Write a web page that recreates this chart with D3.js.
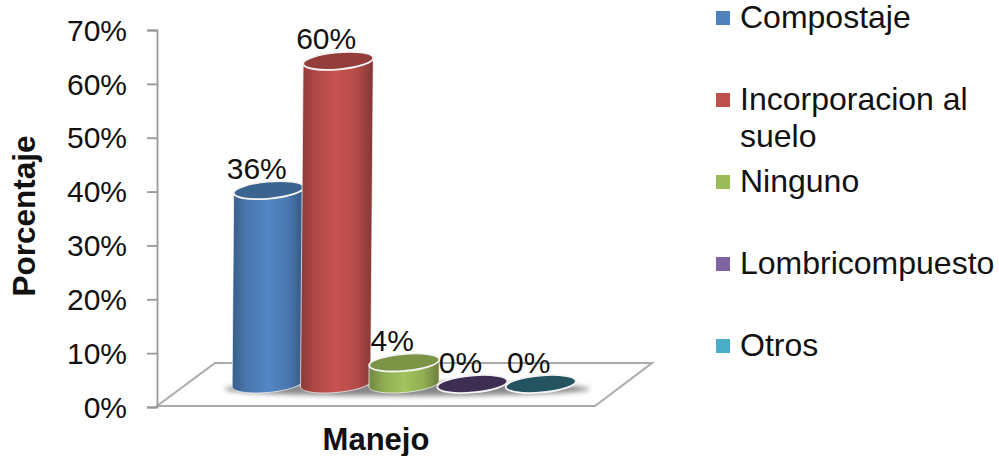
<!DOCTYPE html>
<html>
<head>
<meta charset="utf-8">
<script src="https://cdn.jsdelivr.net/npm/d3@7"></script>
<style>
  html, body { margin: 0; padding: 0; background: #fff; }
  svg { display: block; }
  text { font-family: "Liberation Sans", Arial, sans-serif; fill: #111; }
</style>
</head>
<body>
<svg id="chart" width="999" height="456"></svg>
<script>
const categories = ["Compostaje", "Incorporacion al suelo", "Ninguno", "Lombricompuesto", "Otros"];
const values = [36, 60, 4, 0, 0];
const valueLabels = ["36%", "60%", "4%", "0%", "0%"];
const axisTicks = [0, 10, 20, 30, 40, 50, 60, 70];
const legendLines = [["Compostaje"], ["Incorporacion al", "suelo"], ["Ninguno"], ["Lombricompuesto"], ["Otros"]];
const sideColors = ["#4f81bd", "#c0504d", "#9bbb59", "#8064a2", "#4bacc6"];
const capColors = ["#3c6491", "#933e3b", "#7b9445", "#3f2e54", "#235460"];
const legendRowY = [18, 100, 182, 264, 346];

const svg = d3.select("#chart");
const defs = svg.append("defs");

// Side gradients: dark rims with a lit centre band
categories.forEach((c, i) => {
  const base = d3.color(sideColors[i]);
  const g = defs.append("linearGradient").attr("id", "side" + i);
  [[0, base.darker(0.9)], [0.2, base.darker(0.25)], [0.5, base.brighter(0.12)], [0.78, base.darker(0.2)], [1, base.darker(1.1)]]
    .forEach(([o, col]) => g.append("stop").attr("offset", o).attr("stop-color", col));
});
defs.append("filter").attr("id", "soft")
  .attr("x", "-20%").attr("y", "-100%").attr("width", "140%").attr("height", "300%")
  .append("feGaussianBlur").attr("stdDeviation", 2.5);

// Value scale as seen on the wall, and the same scale shifted back to the bar row
const y = d3.scaleLinear().domain([0, 70]).range([407, 30]);
const floorOffset = 23;
const barY = v => y(v) - floorOffset;
const x = d3.scaleBand().domain(categories).range([233, 575]);

// Floor plane
const floorEdge = d3.line();
svg.append("path")
  .attr("d", floorEdge([[157, 406], [215, 363], [652, 363], [595, 406]]) + "Z")
  .attr("fill", "#fff").attr("stroke", "#aaa").attr("stroke-width", 2);

// Value axis
const axis = d3.axisLeft(y).tickValues(axisTicks).tickFormat(d => d + "%").tickSizeOuter(0).tickSize(10).tickPadding(20);
const axisG = svg.append("g").attr("transform", "translate(157,0)").call(axis);
axisG.select(".domain").attr("stroke", "#999").attr("stroke-width", 1.8);
axisG.selectAll(".tick line").attr("stroke", "#999").attr("stroke-width", 1.8);
axisG.selectAll(".tick text").attr("font-size", 30).attr("fill", "#111").attr("font-family", "Liberation Sans").attr("dy", "0.34em");

const rx = x.bandwidth() / 2 + 1;
const ry = 8.5;
const tilt = -5 * Math.PI / 180;
const lean = 0.008;   // slight rightward lean of the columns with height

// Point on a tilted ellipse outline
const rim = (cx, cy, t) => [
  cx + rx * Math.cos(t) * Math.cos(tilt) - ry * Math.sin(t) * Math.sin(tilt),
  cy + rx * Math.cos(t) * Math.sin(tilt) + ry * Math.sin(t) * Math.cos(tilt)
];
const sweep = d3.range(0, 1.0001, 1 / 40).map(f => f * Math.PI);

// Contact shadow under the row of columns
svg.append("ellipse")
  .attr("cx", (x.range()[0] + x.range()[1]) / 2 + 3).attr("cy", barY(0) + 5)
  .attr("rx", (x.range()[1] - x.range()[0]) / 2 + 12).attr("ry", 7)
  .attr("fill", "#555").attr("opacity", 0.7).attr("filter", "url(#soft)");

const cyl = svg.append("g");
const labels = svg.append("g");
categories.forEach((c, i) => {
  const v = values[i];
  const cx = x(c) + x.bandwidth() / 2;
  const yb = barY(0), yt = barY(v);
  const dx = (yb - yt) * lean;
  if (v > 0) {
    // Wall: front half of the base rim, then back up along the top rim
    const outline = sweep.map(t => rim(cx, yb, t))
      .concat(sweep.slice().reverse().map(t => rim(cx + dx, yt, t)));
    cyl.append("path")
      .attr("d", floorEdge(outline) + "Z")
      .attr("fill", `url(#side${i})`)
      .attr("stroke", "#fff").attr("stroke-opacity", 0.7).attr("stroke-width", 1);
  }
  cyl.append("ellipse")
    .attr("cx", cx + dx).attr("cy", yt).attr("rx", rx).attr("ry", ry)
    .attr("transform", `rotate(-5 ${cx + dx} ${yt})`)
    .attr("fill", capColors[i]).attr("stroke", "#f4f4f4").attr("stroke-width", 1.8);
  labels.append("text")
    .attr("x", cx + dx - 12).attr("y", yt - 11.5)
    .attr("text-anchor", "middle").attr("font-size", 30)
    .text(valueLabels[i]);
});

// Axis titles
svg.append("text").attr("text-anchor", "middle").attr("font-size", 31.5).attr("font-weight", "bold")
  .attr("transform", "translate(35,216) rotate(-90)").text("Porcentaje");
svg.append("text").attr("x", 376).attr("y", 449.5).attr("text-anchor", "middle")
  .attr("font-size", 31).attr("font-weight", "bold").text("Manejo");

// Legend
const legend = svg.append("g");
categories.forEach((c, i) => {
  const top = legendRowY[i];
  legend.append("rect").attr("x", 716).attr("y", top - 7).attr("width", 14).attr("height", 14)
    .attr("fill", sideColors[i]);
  legendLines[i].forEach((line, j) => {
    legend.append("text").attr("x", 740).attr("y", top + 10 + j * 37)
      .attr("font-size", 32).text(line);
  });
});
</script>
</body>
</html>
